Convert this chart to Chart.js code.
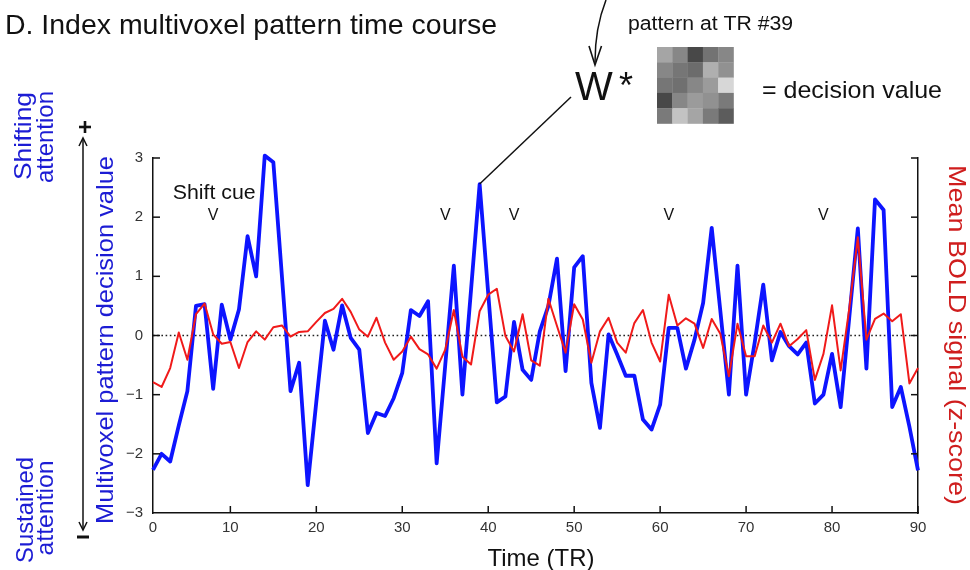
<!DOCTYPE html>
<html><head><meta charset="utf-8">
<script src="https://cdn.jsdelivr.net/npm/chart.js@4.4.1/dist/chart.umd.min.js"></script>
<style>html,body{margin:0;padding:0;background:#fff;}#wrap{width:970px;height:570px;}</style>
</head><body><div id="wrap"><canvas id="c" width="970" height="570"></canvas></div>
<script>
// ---- data ----
const timeTR = [1,2,3,4,5,6,7,8,9,10,11,12,13,14,15,16,17,18,19,20,21,22,23,24,25,26,27,28,29,30,
31,32,33,34,35,36,37,38,39,40,41,42,43,44,45,46,47,48,49,50,51,52,53,54,55,56,57,58,59,60,
61,62,63,64,65,66,67,68,69,70,71,72,73,74,75,76,77,78,79,80,81,82,83,84,85,86,87,88,89,90];
const decisionValue = [-2.27,-2.0,-2.13,-1.52,-0.94,0.5,0.53,-0.9,0.52,-0.07,
0.44,1.68,1.0,3.04,2.93,1.0,-0.94,-0.46,-2.53,-1.12,
0.25,-0.24,0.51,-0.04,-0.24,-1.65,-1.31,-1.36,-1.06,-0.63,
0.43,0.33,0.58,-2.16,-0.5,1.18,-1.0,0.77,2.56,0.71,
-1.13,-1.03,0.23,-0.58,-0.75,0.07,0.5,1.3,-0.6,1.15,
1.34,-0.8,-1.56,0.02,-0.32,-0.68,-0.68,-1.42,-1.59,-1.17,
0.13,0.13,-0.56,-0.07,0.55,1.82,0.42,-1.0,1.18,-1.0,
-0.12,0.86,-0.42,0.06,-0.18,-0.32,-0.12,-1.15,-1.0,-0.31,
-1.21,0.3,1.81,-0.56,2.3,2.12,-1.21,-0.87,-1.54,-2.28];
const meanBold = [-0.79,-0.87,-0.55,0.05,-0.41,0.36,0.54,0.02,-0.14,-0.11,
-0.55,-0.11,0.07,-0.07,0.14,0.17,-0.02,0.06,0.07,0.23,
0.38,0.45,0.62,0.40,0.10,-0.02,0.30,-0.12,-0.41,-0.27,
-0.02,-0.23,-0.32,-0.56,-0.24,0.43,-0.36,-0.49,0.41,0.69,
0.79,-0.01,-0.27,0.36,-0.42,-0.51,0.62,0.16,-0.29,0.53,
0.27,-0.46,0.07,0.30,-0.12,-0.29,0.21,0.43,-0.12,-0.44,
0.69,0.17,0.29,0.20,-0.21,0.28,0.03,-0.69,0.20,-0.35,
-0.35,0.17,-0.12,0.20,-0.18,-0.06,0.09,-0.75,-0.31,0.51,
-0.59,0.45,1.66,-0.07,0.28,0.37,0.24,0.36,-0.81,-0.55];
const xTickValues = [1,10,20,30,40,50,60,70,80,90];
const xTickLabels = ['0','10','20','30','40','50','60','70','80','90'];
const yTickValues = [-3,-2,-1,0,1,2,3];
const yTickLabels = ['\u22123','\u22122','\u22121','0','1','2','3'];
const shiftCueTR = [8,35,43,61,79];
const patternTR = 39;
const patternGray = [165,135,72,115,135, 135,118,108,175,145, 118,112,135,155,215, 72,135,155,145,122, 122,195,165,122,92];

// ---- styles ----
const FONT = "'Liberation Sans', Arial, Helvetica, sans-serif";
const BLUE = '#0d14ff', RED = '#f01a1a', BLUE_TXT = '#1c1cd4', RED_TXT = '#cf1d1d', AX = '#111';

function txt(ctx, s, x, y, o) {
  ctx.save();
  ctx.translate(x, y);
  ctx.rotate(o.rot || 0);
  ctx.font = o.font;
  ctx.fillStyle = o.color || '#111';
  ctx.textAlign = o.align || 'left';
  ctx.textBaseline = o.baseline || 'alphabetic';
  if (o.fitW) { const w = ctx.measureText(s).width; ctx.scale(o.fitW / w, 1); }
  ctx.fillText(s, 0, 0);
  ctx.restore();
}
function line(ctx, x1, y1, x2, y2, w, c) {
  ctx.beginPath(); ctx.moveTo(x1, y1); ctx.lineTo(x2, y2);
  ctx.lineWidth = w; ctx.strokeStyle = c; ctx.stroke();
}

const deco = {
  id: 'deco',
  beforeDatasetsDraw(chart) {
    const {ctx, chartArea: a, scales: {y}} = chart;
    ctx.save();
    ctx.setLineDash([1.6, 2.6]);
    line(ctx, a.left, y.getPixelForValue(0), a.right, y.getPixelForValue(0), 1.6, '#222');
    ctx.restore();
  },
  afterDraw(chart) {
    const {ctx, chartArea: a, scales: {x, y}} = chart;
    ctx.save();
    ctx.lineCap = 'butt';
    // inward ticks
    xTickValues.forEach((v, i) => { if (i === 0) return; const px = x.getPixelForValue(v); line(ctx, px, a.bottom, px, a.bottom - 7, 1.5, AX); });
    yTickValues.forEach((v, i) => { if (i === 0) return; const py = y.getPixelForValue(v);
      line(ctx, a.left, py, a.left + 7, py, 1.5, AX); line(ctx, a.right, py, a.right - 7, py, 1.5, AX); });

    // title
    txt(ctx, 'D. Index multivoxel pattern time course', 5, 34, {font: '28px ' + FONT, color: '#111', fitW: 492});

    // shift cues
    txt(ctx, 'Shift cue', x.getPixelForValue(shiftCueTR[0]) + 1, 199, {font: '20px ' + FONT, align: 'center', fitW: 83});
    shiftCueTR.forEach(t => txt(ctx, 'V', x.getPixelForValue(t), 220, {font: '16px ' + FONT, align: 'center'}));

    // W * pattern = decision value
    const peakX = x.getPixelForValue(patternTR), peakY = y.getPixelForValue(decisionValue[patternTR - 1]);
    line(ctx, peakX, peakY, 571, 97, 1.5, '#111');
    txt(ctx, 'W', 575, 100, {font: '40px ' + FONT});
    txt(ctx, '*', 619, 98, {font: '36px ' + FONT});
    const gx = 657, gy = 47, cs = 15.3;
    patternGray.forEach((g, i) => { const r = Math.floor(i / 5), c = i % 5;
      ctx.fillStyle = `rgb(${g},${g},${g})`; ctx.fillRect(gx + c * cs, gy + r * cs, cs + 0.3, cs + 0.3); });
    txt(ctx, '= decision value', 762, 98, {font: '24px ' + FONT, fitW: 180});
    txt(ctx, 'pattern at TR #' + patternTR, 628, 30, {font: '20px ' + FONT, fitW: 165});
    // curved arrow
    ctx.beginPath(); ctx.moveTo(606, 0); ctx.quadraticCurveTo(595, 28, 595, 62);
    ctx.lineWidth = 1.5; ctx.strokeStyle = '#111'; ctx.stroke();
    ctx.beginPath(); ctx.moveTo(589, 46); ctx.lineTo(595, 65); ctx.lineTo(601.5, 46);
    ctx.lineWidth = 1.6; ctx.stroke();

    // left labels
    const up = -Math.PI / 2;
    txt(ctx, 'Shifting', 31, 136, {font: '24px ' + FONT, color: BLUE_TXT, rot: up, align: 'center', fitW: 88});
    txt(ctx, 'attention', 53, 137, {font: '24px ' + FONT, color: BLUE_TXT, rot: up, align: 'center', fitW: 92});
    txt(ctx, 'Sustained', 33, 510, {font: '24px ' + FONT, color: BLUE_TXT, rot: up, align: 'center', fitW: 106});
    txt(ctx, 'attention', 53, 508, {font: '24px ' + FONT, color: BLUE_TXT, rot: up, align: 'center', fitW: 95});
    txt(ctx, 'Multivoxel pattern decision value', 113, 340, {font: '24px ' + FONT, color: BLUE_TXT, rot: up, align: 'center', fitW: 368});
    txt(ctx, 'Mean BOLD signal (z-score)', 949, 335, {font: '24px ' + FONT, color: RED_TXT, rot: Math.PI / 2, align: 'center', fitW: 340});
    txt(ctx, 'Time (TR)', 541, 566, {font: '24px ' + FONT, color: '#111', align: 'center', fitW: 107});

    // +/- double arrow
    line(ctx, 83, 139, 83, 529, 1.5, '#111');
    ctx.beginPath(); ctx.moveTo(79, 146); ctx.lineTo(83, 138); ctx.lineTo(87, 146); ctx.lineWidth = 1.5; ctx.stroke();
    ctx.beginPath(); ctx.moveTo(79, 522); ctx.lineTo(83, 530); ctx.lineTo(87, 522); ctx.stroke();
    line(ctx, 79, 127, 91, 127, 2.6, '#111'); line(ctx, 85, 121, 85, 133, 2.6, '#111');
    line(ctx, 77, 537, 89, 537, 3, '#111');
    ctx.restore();
  }
};

const tickFont = {family: FONT, size: 15};
new Chart(document.getElementById('c'), {
  type: 'line',
  data: {
    datasets: [
      {label: 'Mean BOLD signal', data: timeTR.map((t, i) => ({x: t, y: meanBold[i]})), yAxisID: 'y2',
       borderColor: RED, borderWidth: 2, pointRadius: 0, tension: 0, order: 0, clip: false, borderJoinStyle: 'round'},
      {label: 'Decision value', data: timeTR.map((t, i) => ({x: t, y: decisionValue[i]})), yAxisID: 'y',
       borderColor: BLUE, borderWidth: 3.8, pointRadius: 0, tension: 0, order: 1, clip: false, borderJoinStyle: 'round'}
    ]
  },
  options: {
    responsive: false, animation: false, devicePixelRatio: 1,
    layout: {padding: {top: 158, left: 0, right: 0, bottom: 0}},
    plugins: {legend: {display: false}, tooltip: {enabled: false}},
    scales: {
      x: {type: 'linear', min: 1, max: 90,
          afterBuildTicks: s => { s.ticks = xTickValues.map(v => ({value: v})); },
          afterFit: s => { s.height = 57; },
          ticks: {autoSkip: false, maxRotation: 0, padding: 6, font: tickFont, color: '#333',
                  callback: (v, i) => xTickLabels[i]},
          grid: {display: false, drawTicks: false}, border: {display: true, color: AX, width: 1.5}},
      y: {type: 'linear', position: 'left', min: -3, max: 3,
          afterBuildTicks: s => { s.ticks = yTickValues.map(v => ({value: v})); },
          afterFit: s => { s.width = 153; },
          ticks: {padding: 10, font: tickFont, color: '#333', callback: (v) => yTickLabels[yTickValues.indexOf(v)]},
          grid: {display: false, drawTicks: false}, border: {display: true, color: AX, width: 1.5}},
      y2: {type: 'linear', position: 'right', min: -3, max: 3,
          afterFit: s => { s.width = 52; },
          ticks: {display: false},
          grid: {display: false, drawTicks: false}, border: {display: true, color: AX, width: 1.5}}
    }
  },
  plugins: [deco]
});
</script></body></html>
